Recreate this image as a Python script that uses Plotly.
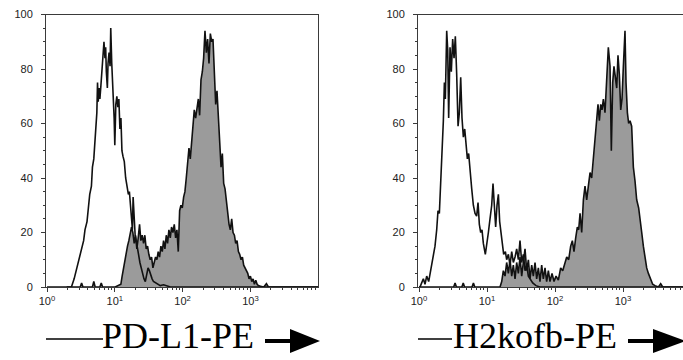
import plotly.graph_objects as go

# ---------------- data (log10 fluorescence, % of max) ----------------
left_open_log = [0.29, 0.36, 0.40, 0.44, 0.48, 0.51, 0.54, 0.56, 0.59, 0.61, 0.63, 0.655, 0.67, 0.69, 0.705,
                 0.72, 0.735, 0.745, 0.755, 0.77, 0.78, 0.795, 0.81, 0.825, 0.84, 0.855, 0.865, 0.875, 0.89,
                 0.90, 0.915, 0.93, 0.94, 0.955, 0.965, 0.98, 0.99, 1.00, 1.015, 1.03, 1.045, 1.06, 1.075,
                 1.09, 1.105, 1.12, 1.14, 1.16, 1.18, 1.20, 1.215, 1.23, 1.245, 1.26, 1.27, 1.285, 1.30,
                 1.315, 1.33, 1.35, 1.37, 1.39, 1.41, 1.43, 1.45, 1.47, 1.49, 1.51, 1.53, 1.55, 1.57, 1.60,
                 1.63, 1.67, 1.72, 1.77, 1.82, 4.0]
left_open_count = [0, 0, 3, 7, 10, 13, 17, 21, 24, 29, 34, 37, 44, 47, 54,
                   59, 64, 75, 68, 73, 69, 74, 80, 85, 90, 84, 88, 79, 73,
                   82, 86, 81, 95, 82, 76, 73, 62, 52, 67, 70, 66, 69, 58,
                   62, 50, 48, 46, 40, 37, 34, 35, 29, 24, 21, 33, 23, 19,
                   17, 14, 12, 9, 7, 4, 3, 2, 5, 7, 6, 4, 3, 2, 1.5,
                   1, 0.5, 0.8, 0.3, 0, 0]

left_fill_log = [0.0, 0.49, 0.51, 0.53, 0.67, 0.69, 0.71, 0.78, 0.80, 0.82, 1.005, 1.054, 1.089, 1.108, 1.128,
                 1.148, 1.167, 1.187, 1.207, 1.227, 1.246, 1.266, 1.286, 1.305, 1.325, 1.345, 1.365, 1.384,
                 1.404, 1.424, 1.443, 1.463, 1.483, 1.502, 1.522, 1.542, 1.562, 1.581, 1.601, 1.621, 1.640,
                 1.660, 1.680, 1.700, 1.719, 1.739, 1.759, 1.778, 1.798, 1.818, 1.837, 1.857, 1.877, 1.897,
                 1.916, 1.936, 1.956, 1.975, 1.995, 2.015, 2.034, 2.054, 2.074, 2.094, 2.113, 2.133, 2.153,
                 2.172, 2.192, 2.212, 2.232, 2.251, 2.271, 2.291, 2.310, 2.330, 2.350, 2.369, 2.389, 2.409,
                 2.429, 2.448, 2.468, 2.488, 2.507, 2.527, 2.547, 2.567, 2.586, 2.606, 2.626, 2.645, 2.665,
                 2.685, 2.704, 2.724, 2.744, 2.764, 2.783, 2.803, 2.823, 2.842, 2.862, 2.882, 2.901, 2.921,
                 2.941, 2.961, 2.980, 3.000, 3.020, 3.039, 3.059, 3.079, 3.099, 3.118, 3.148, 3.197, 3.236,
                 3.266, 4.0]
left_fill_count = [0, 0, 1.5, 0, 0, 2, 0, 0, 1.5, 0, 0, 0.5, 1, 4, 7,
                   10, 12, 15, 17, 19, 22, 20, 16, 19, 14, 18, 23, 17,
                   19, 16, 19, 14, 15, 12, 10, 11, 7, 9, 11, 10, 13,
                   11, 15, 13, 17, 14, 19, 16, 21, 18, 22, 20, 23, 18,
                   21, 13, 28, 30, 29, 33, 35, 40, 45, 51, 47, 53, 57,
                   65, 62, 66, 69, 63, 76, 79, 84, 94, 86, 91, 82, 93,
                   90, 91, 75, 67, 72, 64, 55, 44, 49, 38, 36, 31, 26,
                   23, 21, 25, 20, 19, 16, 17, 13, 12, 10, 11, 8, 7,
                   6, 5, 3, 4, 2, 3, 1, 2.5, 1, 0.5, 0.3, 0, 1.2,
                   0, 0]

right_open_log = [0.0, 0.015, 0.039, 0.064, 0.088, 0.113, 0.142, 0.162, 0.186, 0.211, 0.235, 0.260, 0.279,
                  0.299, 0.319, 0.338, 0.358, 0.373, 0.387, 0.407, 0.422, 0.436, 0.456, 0.475, 0.495, 0.515,
                  0.534, 0.554, 0.574, 0.593, 0.613, 0.632, 0.652, 0.672, 0.691, 0.711, 0.730, 0.750, 0.775,
                  0.799, 0.824, 0.848, 0.868, 0.887, 0.907, 0.926, 0.946, 0.975, 0.995, 1.020, 1.044, 1.069,
                  1.088, 1.108, 1.127, 1.147, 1.167, 1.186, 1.206, 1.225, 1.245, 1.270, 1.289, 1.314, 1.338,
                  1.363, 1.387, 1.412, 1.436, 1.461, 1.485, 1.510, 1.534, 1.559, 1.583, 1.608, 1.632, 1.672,
                  1.720, 1.779, 4.0]
right_open_count = [0, 0, 1.5, 3, 1, 4, 2, 5, 7.4, 11, 15, 21, 28,
                    27, 37, 50, 61, 75, 69, 94, 87, 62, 88, 79, 91, 84,
                    92, 78, 59, 64, 77, 62, 55, 58, 52, 47, 49, 42, 36,
                    30, 27, 26, 31, 23, 20, 21, 16, 12, 15, 20, 25, 30,
                    38, 28, 22, 30, 34, 24, 20, 16, 12, 13, 10, 12, 8,
                    13, 9, 11, 14, 10, 17, 9, 12, 6, 8, 4, 3, 1.5,
                    0.5, 0, 0]

right_fill_log = [0.0, 0.51, 0.53, 0.55, 0.63, 0.65, 0.67, 0.78, 0.80, 0.82, 1.191, 1.216, 1.240, 1.265,
                  1.289, 1.314, 1.338, 1.363, 1.387, 1.412, 1.436, 1.461, 1.485, 1.510, 1.534, 1.559, 1.583,
                  1.608, 1.632, 1.657, 1.681, 1.706, 1.730, 1.755, 1.779, 1.804, 1.828, 1.853, 1.877, 1.902,
                  1.926, 1.956, 1.985, 2.015, 2.049, 2.083, 2.113, 2.142, 2.172, 2.201, 2.230, 2.255, 2.279,
                  2.304, 2.328, 2.348, 2.368, 2.392, 2.417, 2.441, 2.466, 2.490, 2.515, 2.539, 2.564, 2.588,
                  2.613, 2.632, 2.652, 2.672, 2.691, 2.711, 2.735, 2.760, 2.784, 2.809, 2.828, 2.848, 2.867,
                  2.887, 2.907, 2.926, 2.946, 2.966, 2.985, 3.005, 3.029, 3.044, 3.064, 3.083, 3.103, 3.127,
                  3.152, 3.176, 3.201, 3.230, 3.250, 3.275, 3.299, 3.324, 3.348, 3.373, 3.407, 3.436, 3.471,
                  3.520, 3.554, 3.583, 3.9]
right_fill_count = [0, 0, 1.5, 0, 0, 1.5, 0, 0, 1.5, 0, 0, 2, 6, 4,
                    9, 5, 10, 4, 8, 3, 9, 5, 11, 4, 9, 14, 6,
                    10, 3, 8, 4, 9, 3, 7, 2, 8, 3, 7, 2, 6,
                    2, 5, 2, 4, 2.5, 7, 6, 9, 11, 10, 15, 17, 13,
                    18, 22, 21, 27, 20, 32, 37, 32, 37, 42, 40, 47, 53,
                    62, 67, 61, 67, 65, 69, 64, 75, 88, 81, 50, 75, 81,
                    77, 73, 85, 78, 65, 69, 81, 94, 75, 64, 60, 61, 59,
                    44, 39, 32, 29, 24, 20, 15, 10, 7, 5, 2.5, 1, 0.5,
                    0, 1.2, 0, 0]

x_tick_vals = [1, 10, 100, 1000]
x_tick_text = ["10<sup>0</sup>", "10<sup>1</sup>", "10<sup>2</sup>", "10<sup>3</sup>"]
y_tick_vals = [0, 20, 40, 60, 80, 100]
axis_titles = ["PD-L1-PE", "H2kofb-PE"]

# ---------------- figure ----------------
W, H = 683, 360
FILL = "#9b9b9b"
LINE = "#111111"
AX = "#3a3a3a"
TICKFONT = dict(family="Liberation Sans, Arial, sans-serif", size=11, color="#222222")

def px(x):
    return x / W

def py(y):
    return (H - y) / H

fig = go.Figure()

panels = [
    (left_open_log, left_open_count, left_fill_log, left_fill_count, "x", "y"),
    (right_open_log, right_open_count, right_fill_log, right_fill_count, "x2", "y2"),
]
for o_log, o_cnt, f_log, f_cnt, xa, ya in panels:
    fig.add_trace(go.Scatter(
        x=[10 ** v for v in f_log], y=f_cnt, mode="lines", fill="tozeroy",
        fillcolor=FILL, line=dict(color=LINE, width=1.6), xaxis=xa, yaxis=ya,
        hoverinfo="skip", showlegend=False))
    fig.add_trace(go.Scatter(
        x=[10 ** v for v in o_log], y=o_cnt, mode="lines",
        line=dict(color=LINE, width=1.6), xaxis=xa, yaxis=ya,
        hoverinfo="skip", showlegend=False))

ydom = [py(287), py(14.5)]
minor_x = [k * 10 ** d for d in range(0, 4) for k in range(2, 10)]

common_x = dict(type="log", showgrid=False, zeroline=False, showline=True, linecolor=AX, linewidth=1,
                ticks="outside", ticklen=4, tickcolor=AX, tickmode="array",
                tickvals=x_tick_vals, ticktext=x_tick_text, tickfont=TICKFONT,
                minor=dict(ticks="outside", ticklen=2, tickcolor=AX, tickmode="array", tickvals=minor_x,
                           showgrid=False),
                automargin=False, fixedrange=True)
common_y = dict(range=[0, 100], showgrid=False, zeroline=False, showline=True, linecolor=AX, linewidth=1,
                ticks="outside", ticklen=4, tickcolor=AX, tickmode="array", tickvals=y_tick_vals,
                tickfont=TICKFONT, ticklabelstandoff=6,
                minor=dict(ticks="outside", ticklen=2, tickcolor=AX, dtick=5, showgrid=False),
                automargin=False, fixedrange=True, domain=ydom)

fig.update_layout(
    width=W, height=H, margin=dict(l=0, r=0, t=0, b=0),
    paper_bgcolor="white", plot_bgcolor="white", template="none",
    xaxis=dict(common_x, domain=[px(46), px(318)], range=[-0.015, 3.997], mirror=True, anchor="y"),
    yaxis=dict(common_y, mirror=True, anchor="x"),
    xaxis2=dict(common_x, domain=[px(418), 1.0], range=[-0.015, 3.882], mirror=True, anchor="y2"),
    yaxis2=dict(common_y, mirror=False, anchor="x2"),
)

TITLEFONT = dict(family="Liberation Serif, Times New Roman, serif", size=36, color="black")
title_cx = [178, 535]
for txt, cx in zip(axis_titles, title_cx):
    fig.add_annotation(text=txt, x=px(cx), y=py(336), xref="paper", yref="paper",
                       showarrow=False, font=TITLEFONT, xanchor="center", yanchor="middle")

# leading rules and arrows of the axis titles
rules = [(46, 103), (418, 452)]
arrows = [(265, 290, 320), (628, 653, 686)]
for x0, x1 in rules:
    fig.add_shape(type="line", xref="paper", yref="paper", x0=px(x0), x1=px(x1), y0=py(339), y1=py(339),
                  line=dict(color="black", width=1.6))
for s0, h0, tip in arrows:
    fig.add_shape(type="line", xref="paper", yref="paper", x0=px(s0), x1=px(h0 + 2), y0=py(341), y1=py(341),
                  line=dict(color="black", width=4))
    fig.add_shape(type="path", xref="paper", yref="paper",
                  path=f"M {px(h0)},{py(329)} L {px(tip)},{py(341)} L {px(h0)},{py(353)} Z",
                  fillcolor="black", line=dict(color="black", width=0))

fig.write_html("out.html")
